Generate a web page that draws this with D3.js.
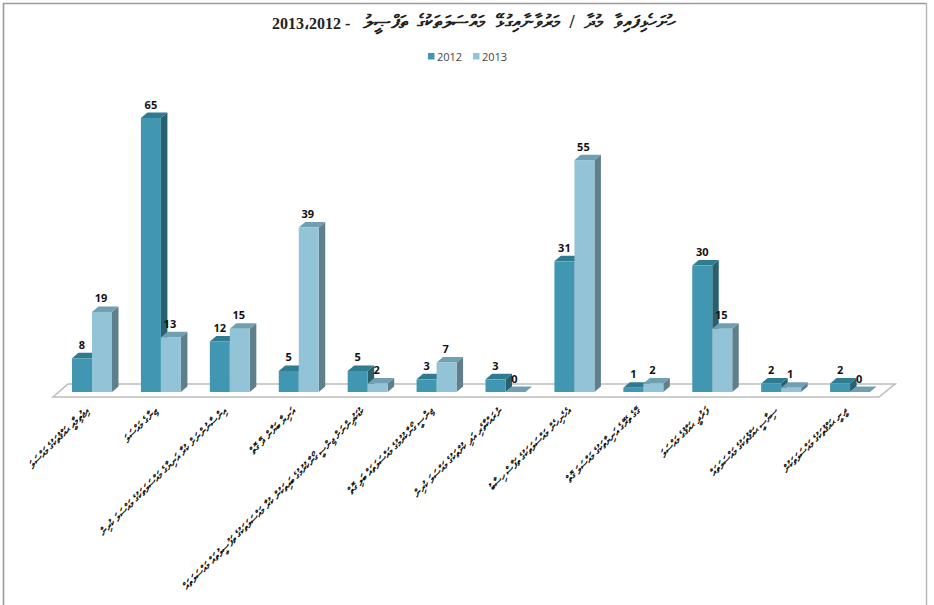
<!DOCTYPE html>
<html><head><meta charset="utf-8">
<script src="https://cdnjs.cloudflare.com/ajax/libs/d3/7.8.5/d3.min.js"></script>
<style>html,body{margin:0;padding:0;background:#fff}svg{display:block}</style></head>
<body><svg id="c" width="934" height="605"></svg>
<script>
const years = ["2012","2013"];
const values2012 = [8,65,12,5,5,3,3,31,1,30,2,2];
const values2013 = [19,13,15,39,2,7,0,55,2,15,1,0];
const categories = [
 "އިޖުތިމާއީ ޙައްޤުތަކުގެ މައްސަލަ",
 "ޒިނާގެ މައްސަލަ",
 "އިންސާނުންނަށް ކުރާ އަނިޔާގެ މައްސަލަތަކުގެ މައްސަލަ ކުރިން",
 "އަނިޔާ ބަޔާން ދޭ ގޮތް",
 "ކުޑަކުދިންނަށް ޖިންސީ ގޯނާކުރުމުގެ ބައިތަކުން ކުރާ މައްސަލަތަކުގެ ތަފުސީލުތައް މައްސަލަތައް",
 "ޖިންސީ ގޯނާކުރުމުގެ މައްސަލަތައް ބަލި ގޮތް",
 "ނުރައްކާތެރި އަދި ކުށްތަކުގެ މައްސަލަ ކުރިން",
 "އެހެނިހެން މައްސަލަތަކުގެ ތަފާސް ހިސާބު",
 "ގޭގެ ތެރޭގެ އަނިޔާތަކުގެ މައްސަލަ ގޮތް",
 "ފަރުދީ ޙައްޤުގެ މައްސަލަ",
 "ސިޔާސީ ޙައްޤުތަކުގެ މައްސަލަތައް",
 "ދީނީ ޙައްޤުތަކުގެ މައްސަލަތަކުން"
];
const titleThaana = "ހުށަހެޅިފައިވާ މުދާ / މަރުވާނާއިގުޅޭ މައްސަލަތަކުގެ ތަފްޞީލު";
const titleYears = "2013،2012 -";
const colors = {front:["#4197b1","#92c3d6"],top:["#2f7b90","#6f9fb0"],side:["#28606f","#5f7f8c"]};
const svg = d3.select("#c");
const y = d3.scaleLinear().domain([0,65]).range([392,118]);
const x0 = d3.scaleBand().domain(d3.range(categories.length)).range([72,899]).paddingInner(0);
const x1 = d3.scaleBand().domain(years).range([0,40]);
const dx=6.5, dy=-5.5;
// frame
svg.append("path").attr("d","M3.5,605V3.5H926").attr("fill","none").attr("stroke","#9a9a9a").attr("stroke-width",1.6);
svg.append("path").attr("d","M926.5,3V605").attr("fill","none").attr("stroke","#b5b5b5").attr("stroke-width",1.4);
// title
svg.append("text").attr("x",675).attr("y",28).attr("direction","rtl").attr("text-anchor","start").attr("font-family","'Liberation Serif',serif").attr("font-weight","bold").attr("font-size",18.5).attr("word-spacing",5).attr("fill","#222").text(titleThaana);
svg.append("text").attr("x",272).attr("y",29).attr("direction","ltr").attr("text-anchor","start").style("unicode-bidi","plaintext").attr("font-family","'Liberation Serif',serif").attr("font-weight","bold").attr("font-size",16).attr("fill","#222").text(titleYears);
// legend
const lg = svg.append("g").attr("font-family","'Open Sans',sans-serif").attr("font-size",11).attr("fill","#444");
years.forEach((yr,i)=>{const lx=428+i*45;
 lg.append("rect").attr("x",lx).attr("y",53).attr("width",6.5).attr("height",6.5).attr("fill",colors.front[i]);
 lg.append("text").attr("x",lx+9).attr("y",60.5).text(yr);});
// floor
svg.append("path").attr("d","M53,397L68,384H895L879,397Z").attr("fill","#fff").attr("stroke","#bdbdbd").attr("stroke-width",1.6);
// bars
const g = svg.append("g");
categories.forEach((c,i)=>{
 years.forEach((yr,s)=>{
  const v=(s?values2013:values2012)[i];
  const bx=x0(i)+x1(yr), w=x1.bandwidth(), t=y(v), b=y(0);
  const bar=g.append("g");
  bar.append("path").attr("d",`M${bx+w},${t}l${dx},${dy}V${b+dy}l${-dx},${-dy}Z`).attr("fill",colors.side[s]);
  bar.append("path").attr("d",`M${bx},${t}l${dx},${dy}h${w}l${-dx},${-dy}Z`).attr("fill",colors.top[s]);
  bar.append("rect").attr("x",bx).attr("y",t).attr("width",w).attr("height",b-t).attr("fill",colors.front[s]);
  });
});
years.forEach((yr,s)=>{categories.forEach((c,i)=>{
  const v=(s?values2013:values2012)[i];
  g.append("text").attr("x",x0(i)+x1(yr)+x1.bandwidth()/2-(s?1:0)).attr("y",y(v)-9.5).attr("text-anchor","middle")
   .attr("font-family","'Open Sans',sans-serif").attr("font-weight","bold").attr("font-size",11).attr("fill","#111").text(v);
});});
// category labels
categories.forEach((c,i)=>{
 svg.append("text").attr("transform",`translate(${x0(i)+18},${412}) rotate(-45)`).attr("text-anchor","start").attr("direction","rtl")
  .attr("font-family","'Liberation Serif',serif").attr("font-weight","bold").style("text-rendering","geometricPrecision").attr("font-size",10.5).attr("fill","#111").text(c);
});
</script></body></html>
